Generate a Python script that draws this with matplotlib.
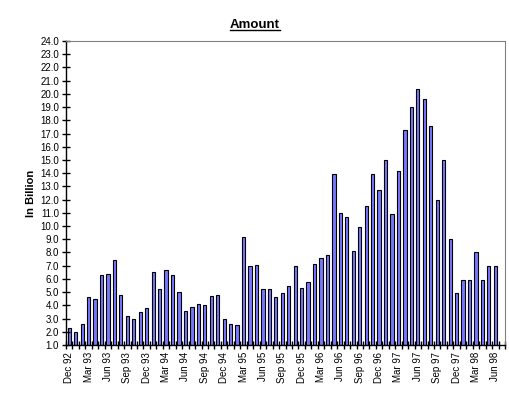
#!/usr/bin/env python3

# numpy
import numpy as np
# plotting
import matplotlib
matplotlib.use("Agg")
import matplotlib.pyplot as plt

## OUTPUT
OUTPUT = "out.png"

# months from Dec 92 to Jul 98 (Jul 98 has no value)
MONTHS = ["Jan", "Feb", "Mar", "Apr", "May", "Jun",
          "Jul", "Aug", "Sep", "Oct", "Nov", "Dec"]
categories = ["Dec 92"] + ["{m} {y:02d}".format(m=m, y=y) for y in range(93, 98) for m in MONTHS] \
    + ["{m} 98".format(m=m) for m in MONTHS[:7]]

# amount in billion, one per month
amount = [2.3,
          2.0, 2.6, 4.6, 4.5, 6.3, 6.4, 7.4, 4.8, 3.2, 3.0, 3.5, 3.8,
          6.5, 5.2, 6.7, 6.3, 5.0, 3.6, 3.9, 4.1, 4.0, 4.7, 4.8, 3.0,
          2.6, 2.5, 9.2, 7.0, 7.05, 5.2, 5.2, 4.6, 4.9, 5.5, 7.0, 5.3,
          5.8, 7.1, 7.6, 7.8, 13.9, 11.0, 10.7, 8.1, 9.9, 11.5, 13.9, 12.7,
          15.0, 10.9, 14.2, 17.3, 19.0, 20.4, 19.6, 17.6, 12.0, 15.0, 9.0, 4.9,
          5.9, 5.9, 8.0, 5.9, 7.0, 7.0,
          np.nan]

y_ticks = np.arange(1.0, 24.5, 1.0)


def main():
    plt.rcParams['font.family'] = ['Liberation Sans', 'DejaVu Sans']
    fig = plt.figure(figsize=(5.10, 3.95), dpi=100)
    ax = fig.add_axes([66 / 510, 1 - 345 / 395, 439 / 510, 304 / 395])

    x = np.arange(len(categories))
    bottom = 1.0
    heights = np.array(amount) - bottom
    ax.bar(x, heights, bottom=bottom, width=0.5, color='#7878FF',
           edgecolor='black', linewidth=0.8)

    ax.set_xlim(-0.5, len(categories) - 0.5)
    ax.set_ylim(1.0, 24.0)

    # y axis
    ax.set_yticks(y_ticks)
    ax.set_yticklabels(["{v:.1f}".format(v=v) for v in y_ticks], fontsize=7)
    ax.tick_params(axis='y', direction='inout', length=6, width=1, pad=2)
    ax.set_ylabel("In Billion", fontsize=8, fontweight='bold', labelpad=3)

    # x axis: ticks at category boundaries, labels every 3 months
    ax.set_xticks(np.arange(-0.5, len(categories), 1.0))
    ax.set_xticklabels([])
    ax.tick_params(axis='x', which='major', direction='inout', length=6, width=1)
    label_pos = x[::3]
    ax.set_xticks(label_pos, minor=True)
    ax.set_xticklabels([categories[i] for i in label_pos], minor=True,
                       rotation=90, fontsize=7)
    ax.tick_params(axis='x', which='minor', length=0, pad=5)

    for side in ['top', 'right']:
        ax.spines[side].set_color('#808080')
    for side in ['left', 'bottom']:
        ax.spines[side].set_color('black')
        ax.spines[side].set_linewidth(1)

    base_y = 1 - 28 / 395
    title = fig.text(255 / 510, base_y, "Amount", ha='center', va='baseline',
                     fontsize=9.5, fontweight='bold')
    # underline just under the baseline
    fig.canvas.draw()
    bb = title.get_window_extent().transformed(fig.transFigure.inverted())
    line_y = base_y - 2 / 395
    fig.add_artist(plt.Line2D([bb.x0, bb.x1], [line_y, line_y],
                              transform=fig.transFigure, color='black', linewidth=1))

    fig.savefig(OUTPUT, dpi=100)


if __name__ == '__main__':
    main()
